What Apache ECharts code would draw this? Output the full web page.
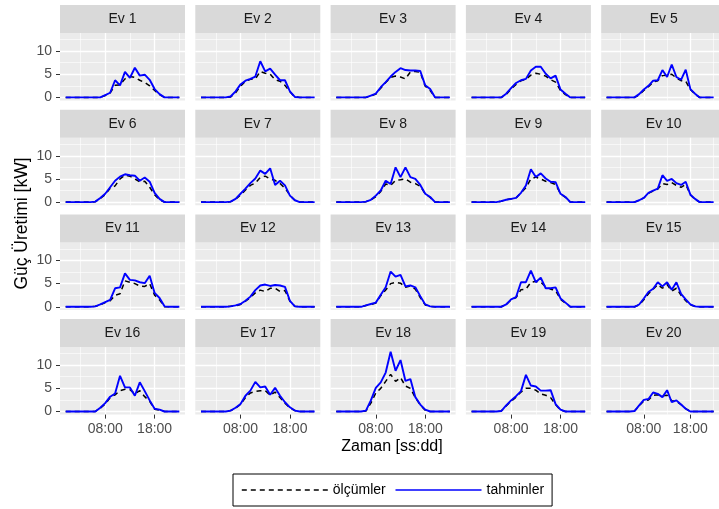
<!DOCTYPE html>
<html><head><meta charset="utf-8">
<script src="https://cdn.jsdelivr.net/npm/echarts@6/dist/echarts.min.js"></script>
<style>html,body{margin:0;padding:0;background:#fff}#c{width:719px;height:509px}</style>
</head><body><div id="c"></div>
<script>
const hours = [0,1,2,3,4,5,6,7,8,9,10,11,12,13,14,15,16,17,18,19,20,21,22,23];
const xMajorTicks = [8, 18];
const xMinorTicks = [3, 13, 23];
const yMajorTicks = [0, 5, 10];
const yMinorTicks = [2.5, 7.5, 12.5];
const panelNames = ['Ev 1','Ev 2','Ev 3','Ev 4','Ev 5','Ev 6','Ev 7','Ev 8','Ev 9','Ev 10',
  'Ev 11','Ev 12','Ev 13','Ev 14','Ev 15','Ev 16','Ev 17','Ev 18','Ev 19','Ev 20'];
const seriesNames = ['ölçümler', 'tahminler'];

//                 0 1 2 3 4 5 6   7   8   9   10  11  12  13  14  15  16  17  18  19  20 21 22 23
const ev1_olcum  = [0,0,0,0,0,0,0,  0,  0.4,1.0,2.6,2.7,4.0,4.5,4.3,3.7,3.2,2.5,1.5,0.6,0,0,0,0];
const ev1_tahmin = [0,0,0,0,0,0,0,  0,  0.5,1.0,3.7,2.6,5.5,4.2,6.4,4.7,4.9,3.8,1.8,0.7,0,0,0,0];
const ev2_olcum  = [0,0,0,0,0,0,0.1,1.0,2.4,3.5,3.9,4.0,5.6,5.2,5.0,3.8,3.5,2.6,1.2,0.1,0,0,0,0];
const ev2_tahmin = [0,0,0,0,0,0,0.2,1.3,2.8,3.6,4.0,4.5,7.8,5.6,6.2,4.9,3.7,3.7,1.3,0.1,0,0,0,0];
const ev3_olcum  = [0,0,0,0,0,0,0,  0.3,0.7,2.0,3.2,4.3,4.6,4.4,4.0,5.5,5.6,5.4,2.4,1.5,0,0,0,0];
const ev3_tahmin = [0,0,0,0,0,0,0,  0.4,0.8,2.2,3.3,4.5,5.5,6.3,5.9,5.8,5.8,5.7,2.6,1.8,0,0,0,0];
const ev4_olcum  = [0,0,0,0,0,0,0,  0.6,1.8,2.8,3.6,3.9,4.8,5.2,5.0,4.6,3.8,3.3,1.5,0.6,0,0,0,0];
const ev4_tahmin = [0,0,0,0,0,0,0,  0.8,2.0,3.1,3.7,4.0,5.8,6.6,6.6,5.1,4.1,4.7,1.7,0.8,0,0,0,0];
const ev5_olcum  = [0,0,0,0,0,0,0,  0.5,1.5,2.3,3.3,3.6,4.7,4.8,5.0,4.2,3.6,3.5,1.7,0.7,0,0,0,0];
const ev5_tahmin = [0,0,0,0,0,0,0,  0.7,1.7,2.5,3.6,3.7,5.9,4.4,7.1,4.4,3.8,6.0,1.8,0.8,0,0,0,0];
const ev6_olcum  = [0,0,0,0,0,0,0.1,0.8,1.6,3.0,3.5,5.0,5.8,5.6,5.0,4.4,4.5,3.2,1.6,0.5,0,0,0,0];
const ev6_tahmin = [0,0,0,0,0,0,0.1,0.9,1.8,3.2,4.6,5.5,6.0,5.8,5.7,4.6,5.3,4.4,2.0,0.7,0,0,0,0];
const ev7_olcum  = [0,0,0,0,0,0,0.1,0.6,1.5,2.6,3.6,4.1,5.3,5.6,5.0,4.7,4.0,3.0,1.5,0.4,0,0,0,0];
const ev7_tahmin = [0,0,0,0,0,0,0.1,0.7,1.8,2.9,4.1,5.1,6.8,6.1,7.3,3.7,4.6,3.6,1.4,0.4,0,0,0,0];
const ev8_olcum  = [0,0,0,0,0,0,0.1,0.4,1.2,2.3,3.9,3.6,4.7,4.8,5.0,4.3,4.0,3.4,1.8,1.0,0,0,0,0];
const ev8_tahmin = [0,0,0,0,0,0,0.1,0.5,1.4,2.5,4.6,3.9,7.5,5.4,7.5,5.4,5.0,3.7,1.8,1.1,0,0,0,0];
const ev9_olcum  = [0,0,0,0,0,0,0.2,0.5,0.7,0.9,2.0,3.1,5.0,5.4,5.0,4.5,4.2,3.8,1.8,1.0,0,0,0,0];
const ev9_tahmin = [0,0,0,0,0,0,0.2,0.5,0.7,0.9,2.0,3.6,7.1,5.4,6.2,5.1,4.4,4.3,1.8,1.1,0,0,0,0];
const ev10_olcum = [0,0,0,0,0,0,0,  0.4,0.9,1.9,2.4,2.8,4.0,3.8,4.2,3.6,3.2,3.8,1.6,0.6,0,0,0,0];
const ev10_tahmin= [0,0,0,0,0,0,0,  0.4,0.9,2.0,2.5,2.9,5.8,4.6,5.0,4.1,3.7,4.4,1.6,0.7,0,0,0,0];
const ev11_olcum = [0,0,0,0,0,0,0.1,0.4,0.9,1.3,2.5,2.8,5.6,5.3,5.0,4.5,4.4,5.0,2.5,1.5,0,0,0,0];
const ev11_tahmin= [0,0,0,0,0,0,0.1,0.5,1.0,1.5,4.0,4.2,7.2,5.8,5.7,5.3,5.1,6.7,3.0,1.9,0.1,0,0,0];
const ev12_olcum = [0,0,0,0,0,0,0.1,0.2,0.5,1.2,2.0,3.0,3.6,3.3,4.0,4.0,3.3,3.5,1.2,0.1,0,0,0,0];
const ev12_tahmin= [0,0,0,0,0,0,0.1,0.3,0.6,1.3,2.2,3.6,4.6,4.8,4.5,4.7,4.6,4.3,1.3,0.1,0,0,0,0];
const ev13_olcum = [0,0,0,0,0,0,0.3,0.5,0.8,2.4,3.6,5.0,5.3,5.1,4.2,4.5,3.8,2.0,0.4,0.1,0,0,0,0];
const ev13_tahmin= [0,0,0,0,0,0,0.3,0.6,0.9,2.6,4.2,7.6,6.5,6.9,4.4,4.6,4.2,2.3,0.5,0.1,0,0,0,0];
const ev14_olcum = [0,0,0,0,0,0,0,  0.5,1.5,2.0,3.7,3.8,5.3,5.5,5.3,4.3,3.8,3.5,1.6,0.8,0,0,0,0];
const ev14_tahmin= [0,0,0,0,0,0,0,  0.5,1.6,2.1,5.3,5.3,7.8,5.3,6.3,4.0,4.0,4.2,1.8,0.9,0,0,0,0];
const ev15_olcum = [0,0,0,0,0,0,0,  0.4,1.5,2.8,3.8,4.8,4.0,4.8,3.4,4.0,2.5,1.3,0.4,0.1,0,0,0,0];
const ev15_tahmin= [0,0,0,0,0,0,0,  0.5,1.8,3.2,3.9,5.3,4.4,5.3,3.7,5.3,2.8,1.6,0.5,0.1,0,0,0,0];
const ev16_olcum = [0,0,0,0,0,0,0,  0.7,1.6,3.0,3.6,4.5,4.8,4.7,3.8,4.5,3.2,2.2,0.5,0.3,0,0,0,0];
const ev16_tahmin= [0,0,0,0,0,0,0,  0.8,1.8,3.2,3.9,7.7,5.2,5.2,3.4,6.3,4.4,2.4,0.6,0.4,0,0,0,0];
const ev17_olcum = [0,0,0,0,0,0,0.2,0.7,1.5,3.0,4.0,4.3,4.5,4.5,3.5,4.2,3.0,1.8,0.8,0.2,0,0,0,0];
const ev17_tahmin= [0,0,0,0,0,0,0.2,0.8,1.6,3.4,4.5,6.4,5.2,5.4,3.6,5.1,3.4,2.0,0.9,0.2,0,0,0,0];
const ev18_olcum = [0,0,0,0,0,0,0.1,1.8,4.0,5.0,6.5,8.0,6.5,7.3,5.5,5.0,3.0,1.4,0.3,0,  0,0,0,0];
const ev18_tahmin= [0,0,0,0,0,0,0.2,2.4,5.1,6.3,8.4,12.9,8.8,11.1,6.6,7.0,3.1,1.5,0.4,0,0,0,0,0];
const ev19_olcum = [0,0,0,0,0,0,0.1,1.2,2.2,3.1,4.2,5.0,5.0,4.6,3.8,3.5,3.0,1.5,0.3,0,  0,0,0,0];
const ev19_tahmin= [0,0,0,0,0,0,0.1,1.3,2.4,3.3,4.4,7.9,5.6,5.4,4.5,4.5,4.6,1.6,0.4,0,  0,0,0,0];
const ev20_olcum = [0,0,0,0,0,0,0.1,1.2,2.3,2.5,3.5,3.6,3.4,3.5,2.3,2.2,1.5,0.6,0,  0,  0,0,0,0];
const ev20_tahmin= [0,0,0,0,0,0,0.1,1.3,2.5,2.7,4.1,3.8,3.1,4.6,2.0,2.4,1.5,0.6,0,  0,  0,0,0,0];

const olcumList = [ev1_olcum,ev2_olcum,ev3_olcum,ev4_olcum,ev5_olcum,ev6_olcum,ev7_olcum,ev8_olcum,ev9_olcum,ev10_olcum,
  ev11_olcum,ev12_olcum,ev13_olcum,ev14_olcum,ev15_olcum,ev16_olcum,ev17_olcum,ev18_olcum,ev19_olcum,ev20_olcum];
const tahminList = [ev1_tahmin,ev2_tahmin,ev3_tahmin,ev4_tahmin,ev5_tahmin,ev6_tahmin,ev7_tahmin,ev8_tahmin,ev9_tahmin,ev10_tahmin,
  ev11_tahmin,ev12_tahmin,ev13_tahmin,ev14_tahmin,ev15_tahmin,ev16_tahmin,ev17_tahmin,ev18_tahmin,ev19_tahmin,ev20_tahmin];

const FONT = 'Liberation Sans, Arial, Helvetica, sans-serif';
const L0 = 60, SX = 135.3, PW = 125;
const T0 = 33, SY = 104.7, PH = 67.5, STRIP = 28;
const XMIN = -1.15, XMAX = 24.15, YMIN = -0.67, YMAX = 13.9;

const grids = [], xAxes = [], yAxes = [], series = [], graphics = [];
const fmtHour = v => (v < 10 ? '0' : '') + v + ':00';

panelNames.forEach((name, i) => {
  const r = Math.floor(i / 5), c = i % 5;
  const left = L0 + c * SX, top = T0 + r * SY;
  grids.push({left: left, top: top, width: PW, height: PH, show: true,
    backgroundColor: '#EBEBEB', borderWidth: 0, containLabel: false});
  const bottomRow = r === 3, leftCol = c === 0;
  xAxes.push({type: 'value', gridIndex: i, min: XMIN, max: XMAX, position: 'bottom',
    axisLine: {show: false, onZero: false},
    axisTick: {show: bottomRow, customValues: xMajorTicks, length: 4, lineStyle: {color: '#333', width: 1}},
    axisLabel: {show: bottomRow, customValues: xMajorTicks, formatter: fmtHour, color: '#4D4D4D',
      fontSize: 14, fontFamily: FONT, margin: 8},
    splitLine: {show: true, lineStyle: {color: '#FFFFFF', width: 1.3}}});
  xAxes.push({type: 'value', gridIndex: i, min: XMIN, max: XMAX, position: 'top',
    axisLine: {show: false, onZero: false},
    axisTick: {show: false, customValues: xMinorTicks},
    axisLabel: {show: false, customValues: xMinorTicks},
    splitLine: {show: true, lineStyle: {color: '#FFFFFF', width: 0.6}}});
  yAxes.push({type: 'value', gridIndex: i, min: YMIN, max: YMAX, position: 'left',
    axisLine: {show: false, onZero: false},
    axisTick: {show: leftCol, customValues: yMajorTicks, length: 4, lineStyle: {color: '#333', width: 1}},
    axisLabel: {show: leftCol, customValues: yMajorTicks, color: '#4D4D4D', fontSize: 14, fontFamily: FONT, margin: 8},
    splitLine: {show: true, lineStyle: {color: '#FFFFFF', width: 1.3}}});
  yAxes.push({type: 'value', gridIndex: i, min: YMIN, max: YMAX, position: 'right',
    axisLine: {show: false, onZero: false},
    axisTick: {show: false, customValues: yMinorTicks},
    axisLabel: {show: false, customValues: yMinorTicks},
    splitLine: {show: true, lineStyle: {color: '#FFFFFF', width: 0.6}}});

  series.push({name: seriesNames[0], type: 'line', xAxisIndex: 2 * i, yAxisIndex: 2 * i,
    data: hours.map((h, k) => [h, olcumList[i][k]]), symbol: 'none', silent: true, animation: false,
    lineStyle: {color: '#000000', width: 1.5, type: [5, 4]}, itemStyle: {color: '#000000'}, z: 2});
  series.push({name: seriesNames[1], type: 'line', xAxisIndex: 2 * i, yAxisIndex: 2 * i,
    data: hours.map((h, k) => [h, tahminList[i][k]]), symbol: 'none', silent: true, animation: false,
    lineStyle: {color: '#0000FF', width: 1.9}, itemStyle: {color: '#0000FF'}, z: 3});

  graphics.push({type: 'rect', shape: {x: left, y: top - STRIP, width: PW, height: STRIP},
    style: {fill: '#D9D9D9'}, silent: true});
  graphics.push({type: 'text', x: left + PW / 2, y: top - STRIP / 2, silent: true,
    style: {text: name, textAlign: 'center', textVerticalAlign: 'middle', fontSize: 14,
      fontFamily: FONT, fill: '#1A1A1A'}});
});

graphics.push({type: 'text', x: 392, y: 447, silent: true,
  style: {text: 'Zaman [ss:dd]', textAlign: 'center', textVerticalAlign: 'middle', fontSize: 16,
    fontFamily: FONT, fill: '#000'}});
graphics.push({type: 'text', x: 22, y: 223.5, rotation: Math.PI / 2, silent: true,
  style: {text: 'Güç Üretimi [kW]', textAlign: 'center', textVerticalAlign: 'middle', fontSize: 17.5,
    fontFamily: FONT, fill: '#000'}});

const chart = echarts.init(document.getElementById('c'), null, {renderer: 'canvas'});
chart.setOption({
  animation: false,
  backgroundColor: '#FFFFFF',
  grid: grids, xAxis: xAxes, yAxis: yAxes, series: series,
  legend: {data: seriesNames, left: 233, top: 474, orient: 'horizontal',
    itemWidth: 86, itemHeight: 14, itemGap: 9, padding: [9, 8, 9, 8],
    borderColor: '#000', borderWidth: 1, selectedMode: false,
    textStyle: {fontSize: 14, color: '#000', fontFamily: FONT},
    itemStyle: {opacity: 0}, lineStyle: {width: 1.6}},
  graphic: graphics
});
</script></body></html>
